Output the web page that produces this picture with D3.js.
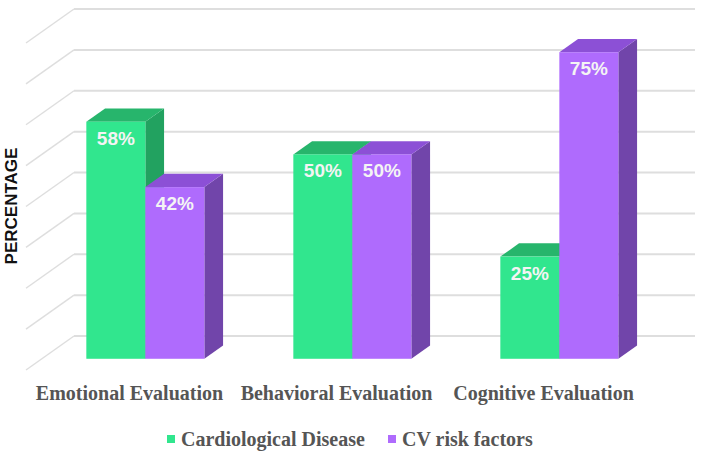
<!DOCTYPE html>
<html>
<head>
<meta charset="utf-8">
<script src="https://cdn.jsdelivr.net/npm/d3@7"></script>
<style>
  body { margin: 0; background: #fff; }
</style>
</head>
<body>
<div class="canvas"></div>
<script>
// data
const categories = ['Emotional Evaluation', 'Behavioral Evaluation', 'Cognitive Evaluation'];
const series = ['Cardiological Disease', 'CV risk factors'];
const cardioValues = [58, 50, 25];
const cvRiskValues = [42, 50, 75];
const yTicks = [0, 10, 20, 30, 40, 50, 60, 70, 80];

const colors = {
    'Cardiological Disease': { front: '#31e68e', top: '#27b56c', side: '#22a260' },
    'CV risk factors': { front: '#af6bfd', top: '#8c50d6', side: '#7145aa' }
};

const width = 702, height = 463;
const svg = d3.select('.canvas')
    .append('svg')
    .attr('width', width)
    .attr('height', height);

// depth of the 3d box
const depthX = 48, depthY = 34;
const off = z => [depthX * z, -depthY * z];

// front plane scales
const x0 = d3.scaleBand()
    .domain(categories)
    .range([26, 647]);

const x1 = d3.scaleBand()
    .domain(series)
    .range([0, x0.bandwidth()])
    .paddingOuter(0.754);

const y = d3.scaleLinear()
    .domain([0, 80])
    .range([370, 43]);

// back wall + side grid lines
const grid = svg.append('g');
const [bx, by] = off(1);
grid.selectAll('line.back')
    .data(yTicks)
    .enter()
    .append('line')
    .attr('x1', x0.range()[0] + bx)
    .attr('x2', x0.range()[1] + bx)
    .attr('y1', d => y(d) + by)
    .attr('y2', d => y(d) + by)
    .attr('stroke', '#dedede')
    .attr('stroke-width', 2);

grid.selectAll('line.side')
    .data(yTicks)
    .enter()
    .append('line')
    .attr('x1', x0.range()[0])
    .attr('x2', x0.range()[0] + bx)
    .attr('y1', d => y(d))
    .attr('y2', d => y(d) + by)
    .attr('stroke', '#dedede')
    .attr('stroke-width', 1.5);

// bars
const zFront = 0.33, zBack = 0.72;
const [fx, fy] = off(zFront);
const [kx, ky] = off(zBack);
const ddx = kx - fx, ddy = ky - fy;

const data = [];
categories.forEach((c, i) => {
    data.push({ cat: c, s: series[0], v: cardioValues[i] });
    data.push({ cat: c, s: series[1], v: cvRiskValues[i] });
});

const bars = svg.append('g').selectAll('g')
    .data(data)
    .enter()
    .append('g');

const geo = d => {
    const xl = x0(d.cat) + x1(d.s) + fx;
    const xr = xl + x1.bandwidth();
    const yb = y(0) + fy;
    const yt = y(d.v) + fy;
    return { xl, xr, yb, yt };
};

bars.append('polygon')
    .attr('points', d => {
        const g = geo(d);
        return [[g.xr, g.yb], [g.xr, g.yt], [g.xr + ddx, g.yt + ddy], [g.xr + ddx, g.yb + ddy]].join(' ');
    })
    .attr('fill', d => colors[d.s].side);

bars.append('polygon')
    .attr('points', d => {
        const g = geo(d);
        return [[g.xl, g.yt], [g.xr, g.yt], [g.xr + ddx, g.yt + ddy], [g.xl + ddx, g.yt + ddy]].join(' ');
    })
    .attr('fill', d => colors[d.s].top);

bars.append('rect')
    .attr('x', d => geo(d).xl)
    .attr('y', d => geo(d).yt)
    .attr('width', x1.bandwidth())
    .attr('height', d => geo(d).yb - geo(d).yt)
    .attr('fill', d => colors[d.s].front);

bars.append('text')
    .attr('x', d => (geo(d).xl + geo(d).xr) / 2)
    .attr('y', d => geo(d).yt + 23)
    .attr('text-anchor', 'middle')
    .attr('font-family', 'Liberation Sans, Arial, sans-serif')
    .attr('font-weight', 'bold')
    .attr('font-size', 19)
    .attr('fill', '#f4f4f4')
    .text(d => `${d.v}%`);

// category labels
svg.append('g').selectAll('text')
    .data(categories)
    .enter()
    .append('text')
    .attr('x', d => x0(d) + x0.bandwidth() / 2)
    .attr('y', 400)
    .attr('text-anchor', 'middle')
    .attr('font-family', 'Liberation Serif, Times New Roman, serif')
    .attr('font-weight', 'bold')
    .attr('font-size', 20)
    .attr('fill', '#555')
    .text(d => d);

// y axis title
svg.append('text')
    .attr('transform', 'translate(17, 206) rotate(-90)')
    .attr('text-anchor', 'middle')
    .attr('font-family', 'Liberation Sans, Arial, sans-serif')
    .attr('font-weight', 'bold')
    .attr('font-size', 17)
    .attr('fill', '#111')
    .text('PERCENTAGE');

// legend
const legendX = [167, 388];
const legend = svg.append('g').selectAll('g')
    .data(series)
    .enter()
    .append('g')
    .attr('transform', (d, i) => `translate(${legendX[i]}, 439)`);

legend.append('rect')
    .attr('x', 0)
    .attr('y', -4)
    .attr('width', 8)
    .attr('height', 8)
    .attr('fill', d => colors[d].front);

legend.append('text')
    .attr('x', 14)
    .attr('y', 7)
    .attr('font-family', 'Liberation Serif, Times New Roman, serif')
    .attr('font-weight', 'bold')
    .attr('font-size', 20)
    .attr('fill', '#555')
    .text(d => d);
</script>
</body>
</html>
